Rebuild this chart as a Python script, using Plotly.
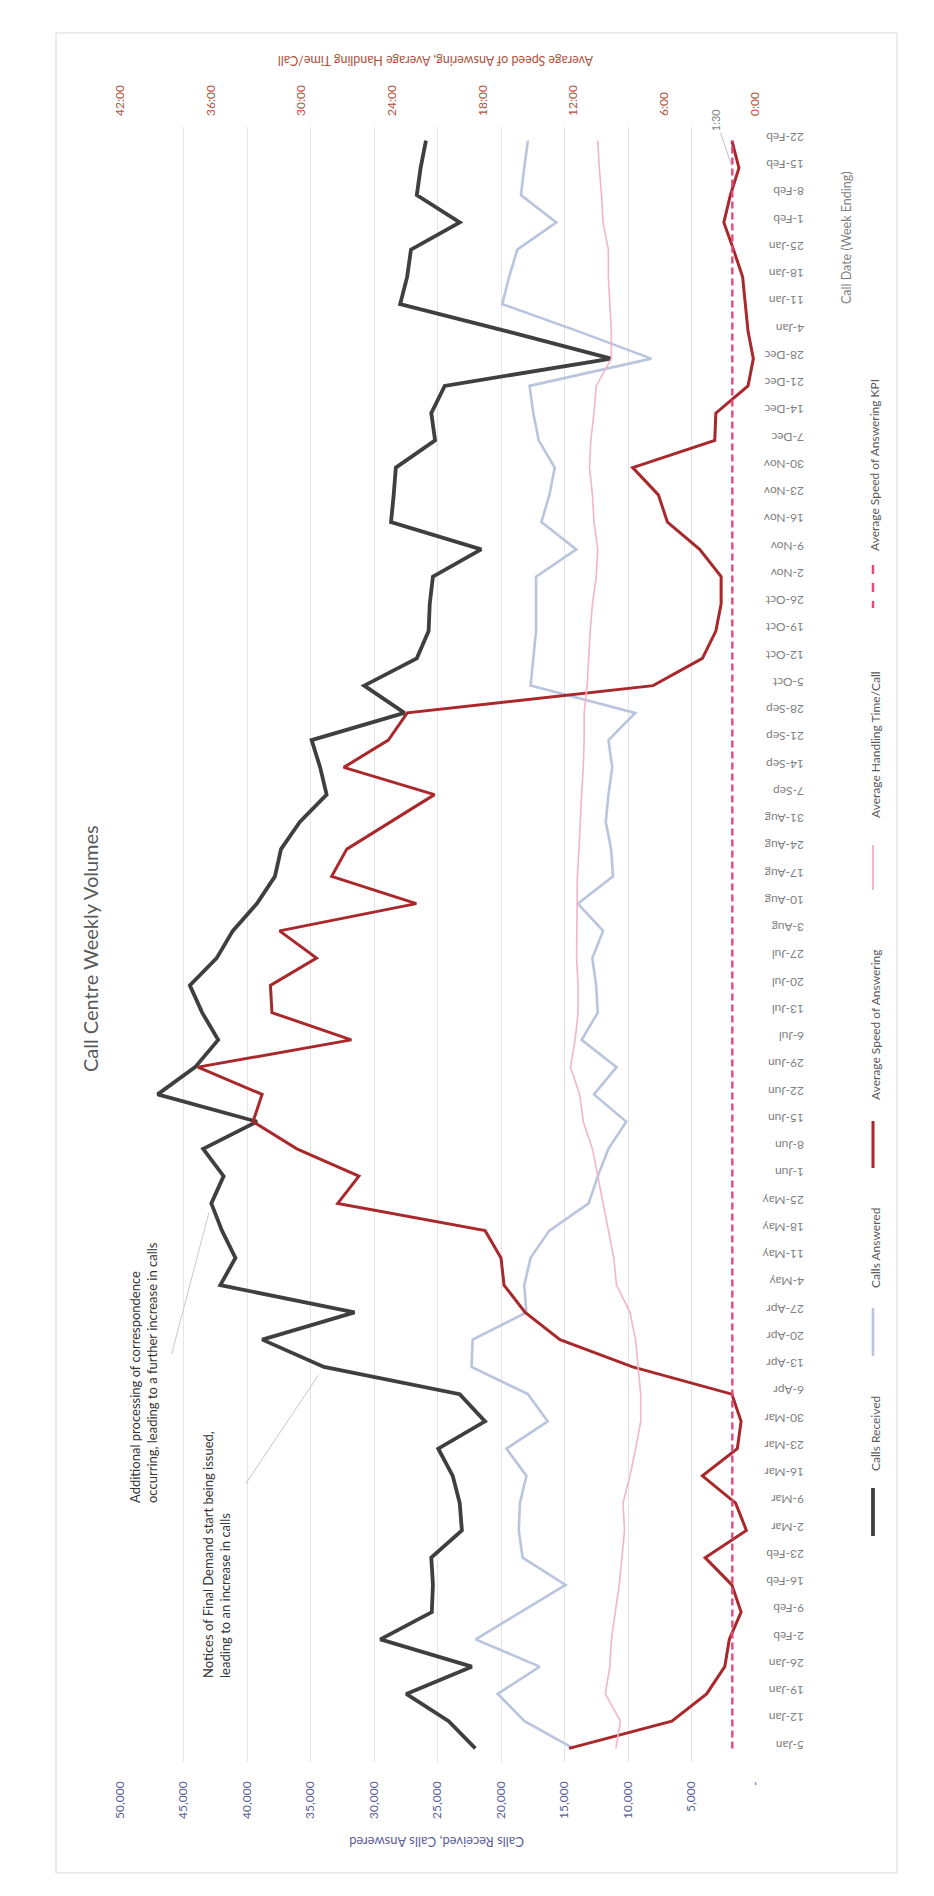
import plotly.graph_objects as go

# ---------------- data ----------------
dates = ["5-Jan", "12-Jan", "19-Jan", "26-Jan", "2-Feb", "9-Feb", "16-Feb", "23-Feb",
         "2-Mar", "9-Mar", "16-Mar", "23-Mar", "30-Mar", "6-Apr", "13-Apr", "20-Apr",
         "27-Apr", "4-May", "11-May", "18-May", "25-May", "1-Jun", "8-Jun", "15-Jun",
         "22-Jun", "29-Jun", "6-Jul", "13-Jul", "20-Jul", "27-Jul", "3-Aug", "10-Aug",
         "17-Aug", "24-Aug", "31-Aug", "7-Sep", "14-Sep", "21-Sep", "28-Sep", "5-Oct",
         "12-Oct", "19-Oct", "26-Oct", "2-Nov", "9-Nov", "16-Nov", "23-Nov", "30-Nov",
         "7-Dec", "14-Dec", "21-Dec", "28-Dec", "4-Jan", "11-Jan", "18-Jan", "25-Jan",
         "1-Feb", "8-Feb", "15-Feb", "22-Feb"]

calls_received = [22020, 24120, 27460, 22300, 29500, 25450, 25360, 25490,
                  23080, 23250, 23800, 24940, 21260, 23250, 33940, 38800,
                  31530, 42100, 40910, 41970, 42810, 41840, 43450, 39220,
                  47040, 44080, 42270, 43530, 44500, 42390, 41120, 39220,
                  37800, 37320, 35840, 33730, 34240, 34910, 27600, 30770,
                  26630, 25700, 25610, 25360, 21560, 28660, 28450, 28280,
                  25190, 25490, 24430, 11330, 19500, 27940, 27390, 27090,
                  23250, 26630, 26330, 25910]

calls_answered = [14290, 18150, 20260, 16950, 22000, 18510, 14920, 18300,
                  18600, 18510, 18000, 19570, 16320, 17880, 22320, 22230,
                  18000, 18170, 17670, 16190, 13100, 12380, 11540, 10140,
                  12680, 10900, 13650, 12380, 12510, 12810, 11960, 13950,
                  11180, 11330, 11750, 11540, 11240, 11540, 9430, 17670,
                  17460, 17240, 17240, 17240, 14070, 16820, 16190, 15770,
                  17030, 17460, 17750, 8160, 13900, 19900, 19360, 18720,
                  15640, 18430, 18170, 17880]

# minutes
asa_minutes = [12.3, 5.5, 3.2, 2.0, 1.7, 0.92, 1.53, 3.3,
               0.57, 1.28, 3.48, 1.17, 0.92, 1.53, 8.1, 12.9,
               15.2, 16.6, 16.8, 17.85, 27.6, 26.2, 30.3, 33.2,
               32.6, 36.85, 26.7, 31.95, 32.05, 29.0, 31.45, 22.4,
               28.0, 27.0, 24.1, 21.2, 27.2, 24.25, 23.0, 6.74,
               3.48, 2.59, 2.24, 2.24, 3.66, 5.79, 6.39, 8.09,
               2.66, 2.59, 0.46, 0.11, 0.46, 0.64, 0.82, 1.42,
               2.06, 1.63, 1.06, 1.53]

aht_minutes = [9.2, 8.9, 9.9, 9.6, 9.5, 9.23, 8.98, 8.8,
               8.63, 8.73, 8.27, 7.9, 7.56, 7.56, 7.74, 7.9,
               8.27, 9.16, 9.34, 9.7, 10.05, 10.4, 10.75, 11.36,
               11.6, 12.2, 11.9, 11.7, 11.7, 11.8, 11.8, 11.8,
               11.75, 11.64, 11.57, 11.47, 11.36, 11.3, 11.3, 11.1,
               11.0, 10.9, 10.75, 10.5, 10.4, 10.65, 10.75, 10.95,
               10.86, 10.65, 10.5, 9.5, 9.5, 9.6, 9.7, 9.7,
               10.05, 10.15, 10.3, 10.4]

kpi_minutes = [1.5, 1.5, 1.5, 1.5, 1.5, 1.5, 1.5, 1.5, 1.5, 1.5,
               1.5, 1.5, 1.5, 1.5, 1.5, 1.5, 1.5, 1.5, 1.5, 1.5,
               1.5, 1.5, 1.5, 1.5, 1.5, 1.5, 1.5, 1.5, 1.5, 1.5,
               1.5, 1.5, 1.5, 1.5, 1.5, 1.5, 1.5, 1.5, 1.5, 1.5,
               1.5, 1.5, 1.5, 1.5, 1.5, 1.5, 1.5, 1.5, 1.5, 1.5,
               1.5, 1.5, 1.5, 1.5, 1.5, 1.5, 1.5, 1.5, 1.5, 1.5]

calls_ticks = [0, 5000, 10000, 15000, 20000, 25000, 30000, 35000, 40000, 45000, 50000]
calls_tick_labels = ["-", "5,000", "10,000", "15,000", "20,000", "25,000",
                     "30,000", "35,000", "40,000", "45,000", "50,000"]
time_ticks = [0, 6, 12, 18, 24, 30, 36, 42]
time_tick_labels = ["0:00", "6:00", "12:00", "18:00", "24:00", "30:00", "36:00", "42:00"]

# ---------------- styling ----------------
C_REC = "#3F3F3F"
C_ANS = "#B9C4DE"
C_ASA = "#A8282B"
C_AHT = "#F2B6C4"
C_KPI = "#E04C7C"
C_PRI = "#5A5E98"
C_SEC = "#B0503A"
C_GRAY = "#7F7F7F"
FONT = "Lato, Open Sans, sans-serif"

W, H = 934, 1896
L, R, T, B = 120, 755, 127, 1762   # plot area in pixels


def px(x):
    return (x - L) / (R - L)


def py(y):
    return (B - y) / (B - T)


fig = go.Figure()
fig.add_trace(go.Scatter(x=calls_received, y=dates, name="Calls Received", mode="lines",
                         line=dict(color=C_REC, width=3.8), xaxis="x", yaxis="y"))
fig.add_trace(go.Scatter(x=calls_answered, y=dates, name="Calls Answered", mode="lines",
                         line=dict(color=C_ANS, width=2.6), xaxis="x", yaxis="y"))
fig.add_trace(go.Scatter(x=asa_minutes, y=dates, name="Average Speed of Answering", mode="lines",
                         line=dict(color=C_ASA, width=3), xaxis="x2", yaxis="y"))
fig.add_trace(go.Scatter(x=aht_minutes, y=dates, name="Average Handling Time/Call", mode="lines",
                         line=dict(color=C_AHT, width=1.6), xaxis="x2", yaxis="y"))
fig.add_trace(go.Scatter(x=kpi_minutes, y=dates, name="Average Speed of Answering KPI", mode="lines",
                         line=dict(color=C_KPI, width=2.4, dash="7px,4px"), xaxis="x2", yaxis="y"))

annotations = []
shapes = []


def rot_text(text, x, y, size, color, angle=-90, align="center"):
    annotations.append(dict(text=text, x=px(x), y=py(y), xref="paper", yref="paper",
                            showarrow=False, textangle=angle, align=align,
                            xanchor="center", yanchor="middle",
                            font=dict(size=size, color=color, family=FONT)))


# title and axis titles
rot_text("Call Centre Weekly Volumes", 90, 949, 20, "#595959")
rot_text("Calls Received, Calls Answered", 437, 1842, 13, C_PRI, angle=180)
rot_text("Average Speed of Answering, Average Handling Time/Call", 436, 61, 12.5, C_SEC, angle=180)
rot_text("Call Date (Week Ending)", 847, 238, 12.5, C_GRAY)

# callout texts
rot_text("Additional processing of correspondence<br>occurring, leading to a further increase in calls",
         143, 1373, 13, "#333333", align="left")
rot_text("Notices of Final Demand start being issued,<br>leading to an increase in calls",
         216, 1555, 13, "#333333", align="left")

# leader lines pointing at data points
annotations.append(dict(x=calls_received[20], y=dates[20], xref="x", yref="y", text="",
                        showarrow=True, arrowhead=0, arrowwidth=1, arrowcolor="#C8C8C8",
                        ax=-40, ay=152, standoff=10))
annotations.append(dict(x=calls_received[14], y=dates[14], xref="x", yref="y", text="",
                        showarrow=True, arrowhead=0, arrowwidth=1, arrowcolor="#C8C8C8",
                        ax=-79, ay=118, standoff=10))
# KPI data label
annotations.append(dict(x=kpi_minutes[58], y=dates[58], xref="x2", yref="y", text="1:30",
                        textangle=-90, showarrow=True, arrowhead=0, arrowwidth=1,
                        arrowcolor="#BFBFBF", ax=-16, ay=-48, standoff=2,
                        font=dict(size=11, color=C_GRAY, family=FONT)))

# custom vertical legend
legend_items = [
    ("Calls Received", C_REC, 3.8, "solid", 1488, 1536, 1434),
    ("Calls Answered", C_ANS, 2.6, "solid", 1308, 1356, 1248),
    ("Average Speed of Answering", C_ASA, 3, "solid", 1121, 1168, 1025),
    ("Average Handling Time/Call", C_AHT, 2, "solid", 845, 890, 745),
    ("Average Speed of Answering KPI", C_KPI, 2.5, "dash", 565, 608, 465),
]
for name, col, wd, dash, y0, y1, ty in legend_items:
    shapes.append(dict(type="line", xref="paper", yref="paper", x0=px(873), x1=px(873),
                       y0=py(y0), y1=py(y1), line=dict(color=col, width=wd, dash=dash)))
    rot_text(name, 875, ty, 12, "#595959")

# chart border
shapes.append(dict(type="rect", xref="paper", yref="paper", x0=px(56), x1=px(897),
                   y0=py(1873), y1=py(33), line=dict(color="#D9D9D9", width=1),
                   fillcolor="rgba(0,0,0,0)", layer="below"))

fig.update_layout(
    width=W, height=H,
    margin=dict(l=L, r=W - R, t=T, b=H - B, pad=0),
    paper_bgcolor="white", plot_bgcolor="white",
    showlegend=False,
    font=dict(family=FONT),
    xaxis=dict(range=[50000, 0], tickvals=calls_ticks, ticktext=calls_tick_labels,
               tickangle=-90, side="bottom", showgrid=True, gridcolor="#E4E4E4", gridwidth=1,
               zeroline=False, showline=False, ticks="", ticklabelstandoff=16,
               tickfont=dict(size=12, color=C_PRI, family=FONT)),
    xaxis2=dict(range=[42, 0], overlaying="x", side="top", tickvals=time_ticks,
                ticktext=time_tick_labels, tickangle=-90, showgrid=False, zeroline=False,
                showline=False, ticks="", ticklabelstandoff=10,
                tickfont=dict(size=12, color=C_SEC, family=FONT)),
    yaxis=dict(type="category", categoryorder="array", categoryarray=dates,
               range=[-0.5, len(dates) - 0.5], side="right", tickangle=180,
               showgrid=False, zeroline=False, showline=False, ticks="",
               ticklabelstandoff=48, tickfont=dict(size=12, color=C_GRAY, family=FONT)),
    annotations=annotations,
    shapes=shapes,
)

fig.write_html("out.html", config={"displayModeBar": False},
               post_script="document.body.style.margin='0px';")
